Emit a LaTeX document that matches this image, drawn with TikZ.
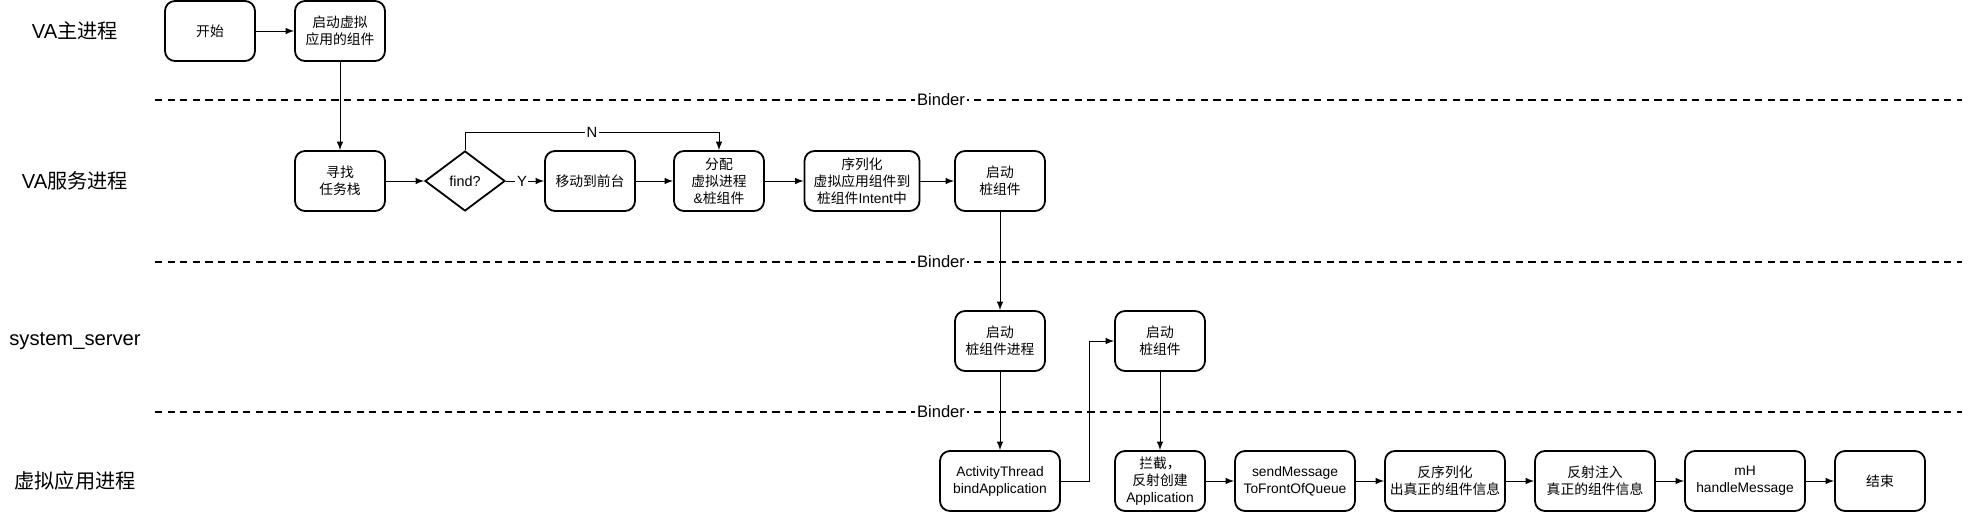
\documentclass[tikz,border=0pt]{standalone}
\usepackage{fontspec}
\setmainfont{Liberation Sans}
\newfontfamily\cjk{Noto Sans CJK SC}
\usetikzlibrary{shapes.geometric}
\usetikzlibrary{math}

\begin{document}
\begin{tikzpicture}[x=0.5pt, y=-0.5pt,
    stepbox/.style={draw, line width=0.9pt, rounded corners=5pt, minimum width=45pt,
        minimum height=30pt, align=center, inner sep=1pt, font=\fontsize{6.9}{8.5}\selectfont},
    widebox/.style={stepbox, minimum width=60pt},
    decision/.style={draw, line width=0.9pt, diamond, minimum width=40pt, minimum height=30pt,
        inner sep=0pt, font=\fontsize{7.2}{8.5}\selectfont},
    flow/.style={-latex, line width=0.5pt},
    lanelabel/.style={font=\fontsize{10.1}{12}\selectfont},
    binderline/.style={line width=1pt, dash pattern=on 3.6pt off 2.7pt},
    bindertag/.style={fill=white, inner sep=1pt, font=\fontsize{8.3}{10}\selectfont},
    edgetag/.style={fill=white, inner sep=0.8pt, font=\fontsize{7.4}{8.5}\selectfont},
]

% Position settings
\tikzmath{
    \RowA = 31;
    \RowB = 181;
    \RowC = 341;
    \RowD = 481;
    \LaneX = 75;
    \SepA = 100;
    \SepB = 262;
    \SepC = 412;
    \LineStart = 155;
    \LineEnd = 1962;
    \BinderX = 941;
    \LoopY = 132;
    \ElbowX = 1089;
}

\useasboundingbox (0,0) rectangle (1969,514);

% Lanes
\node[lanelabel] (LaneMain) at (\LaneX,\RowA) {VA{\cjk 主进程}};
\node[lanelabel] (LaneService) at (\LaneX,\RowB) {VA{\cjk 服务进程}};
\node[lanelabel] (LaneServer) at (\LaneX,\RowC) {system\_server};
\node[lanelabel] (LaneApp) at (\LaneX,\RowD) {{\cjk 虚拟应用进程}};

\coordinate (SepAL) at (\LineStart,\SepA);
\coordinate (SepAR) at (\LineEnd,\SepA);
\coordinate (SepBL) at (\LineStart,\SepB);
\coordinate (SepBR) at (\LineEnd,\SepB);
\coordinate (SepCL) at (\LineStart,\SepC);
\coordinate (SepCR) at (\LineEnd,\SepC);

\draw[binderline] (SepAL) -- (SepAR);
\draw[binderline] (SepBL) -- (SepBR);
\draw[binderline] (SepCL) -- (SepCR);
\node[bindertag] (BinderA) at (\BinderX,\SepA) {Binder};
\node[bindertag] (BinderB) at (\BinderX,\SepB) {Binder};
\node[bindertag] (BinderC) at (\BinderX,\SepC) {Binder};

% VA main process
\node[stepbox] (Start) at (210,\RowA) {{\cjk 开始}};
\node[stepbox] (LaunchVA) at (340,\RowA) {{\cjk 启动虚拟}\\{\cjk 应用的组件}};

% VA service process
\node[stepbox] (SeekTask) at (340,\RowB) {{\cjk 寻找}\\{\cjk 任务栈}};
\node[decision] (Find) at (465,\RowB) {find?};
\node[stepbox] (MoveFront) at (590,\RowB) {{\cjk 移动到前台}};
\node[stepbox] (Assign) at (719,\RowB) {{\cjk 分配}\\{\cjk 虚拟进程}\\\&{\cjk 桩组件}};
\node[stepbox, minimum width=57.5pt] (Serialize) at (862,\RowB)
    {{\cjk 序列化}\\{\cjk 虚拟应用组件到}\\{\cjk 桩组件}Intent{\cjk 中}};
\node[stepbox] (StubA) at (1000,\RowB) {{\cjk 启动}\\{\cjk 桩组件}};

% system_server
\node[stepbox] (StubProc) at (1000,\RowC) {{\cjk 启动}\\{\cjk 桩组件进程}};
\node[stepbox] (StubB) at (1160,\RowC) {{\cjk 启动}\\{\cjk 桩组件}};

% Virtual app process
\node[widebox] (Bind) at (1000,\RowD) {ActivityThread\\bindApplication};
\node[stepbox] (Hook) at (1160,\RowD) {{\cjk 拦截，}\\{\cjk 反射创建}\\Application};
\node[widebox] (SendMsg) at (1295,\RowD) {sendMessage\\ToFrontOfQueue};
\node[widebox] (Deserialize) at (1445,\RowD) {{\cjk 反序列化}\\{\cjk 出真正的组件信息}};
\node[widebox] (Inject) at (1595,\RowD) {{\cjk 反射注入}\\{\cjk 真正的组件信息}};
\node[widebox] (HandleMsg) at (1745,\RowD) {mH\\handleMessage};
\node[stepbox] (Finish) at (1880,\RowD) {{\cjk 结束}};

% Connectors
\coordinate (LoopTop) at (0,\LoopY);
\coordinate (Elbow) at (\ElbowX,0);

\draw[flow] (Start) -- (LaunchVA);
\draw[flow] (LaunchVA) -- (SeekTask);
\draw[flow] (SeekTask) -- (Find);
\draw[flow] (Find) -- node[edgetag, pos=0.42] {Y} (MoveFront);
\draw[flow] (Find.north) -- (Find.north |- LoopTop)
    -- node[edgetag] {N} (Assign.north |- LoopTop) -- (Assign.north);
\draw[flow] (MoveFront) -- (Assign);
\draw[flow] (Assign) -- (Serialize);
\draw[flow] (Serialize) -- (StubA);
\draw[flow] (StubA) -- (StubProc);
\draw[flow] (StubProc) -- (Bind);
\draw[flow] (Bind.east) -- (Bind.east -| Elbow) -- (Elbow |- StubB.west) -- (StubB.west);
\draw[flow] (StubB) -- (Hook);
\foreach \from/\to in {Hook/SendMsg, SendMsg/Deserialize, Deserialize/Inject, Inject/HandleMsg, HandleMsg/Finish}
    \draw[flow] (\from) -- (\to);

\end{tikzpicture}
\end{document}
